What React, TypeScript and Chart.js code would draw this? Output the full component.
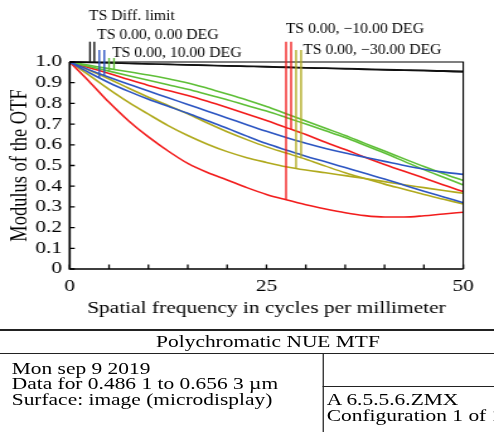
import React, { useEffect, useRef } from "react";
import { Chart, registerables } from "chart.js";

Chart.register(...registerables);

// ---------- data ----------
const FREQ = [0, 2.5, 5, 7.5, 10, 12.5, 15, 17.5, 20, 22.5, 25, 27.5, 30, 32.5, 35, 37.5, 40, 42.5, 45, 47.5, 50];

const DIFF_T = [1, 0.998, 0.996, 0.9935, 0.991, 0.989, 0.987, 0.9845, 0.982, 0.98, 0.978, 0.9755, 0.973, 0.971, 0.969, 0.9665, 0.964, 0.962, 0.96, 0.9575, 0.955];
const DIFF_S = [1, 0.9978, 0.9956, 0.993, 0.9905, 0.988, 0.9858, 0.9832, 0.981, 0.9785, 0.976, 0.9737, 0.9712, 0.969, 0.9665, 0.964, 0.9617, 0.9593, 0.957, 0.9545, 0.952];

const DEG0_T = [1, 0.948, 0.9, 0.858, 0.82, 0.786, 0.752, 0.716, 0.68, 0.642, 0.606, 0.575, 0.545, 0.518, 0.49, 0.462, 0.435, 0.405, 0.376, 0.348, 0.32];
const DEG0_S = [1, 0.962, 0.926, 0.892, 0.86, 0.827, 0.795, 0.762, 0.73, 0.697, 0.665, 0.635, 0.607, 0.582, 0.56, 0.54, 0.52, 0.5, 0.482, 0.468, 0.457];

const DEG10_T = [1, 0.978, 0.956, 0.934, 0.912, 0.89, 0.868, 0.843, 0.818, 0.79, 0.763, 0.732, 0.7, 0.668, 0.635, 0.598, 0.56, 0.52, 0.48, 0.443, 0.406];
const DEG10_S = [1, 0.984, 0.968, 0.953, 0.937, 0.919, 0.899, 0.873, 0.845, 0.816, 0.785, 0.75, 0.715, 0.68, 0.645, 0.607, 0.57, 0.532, 0.495, 0.46, 0.427];

const DEGM10_T = [1, 0.905, 0.805, 0.715, 0.638, 0.57, 0.51, 0.466, 0.43, 0.393, 0.36, 0.334, 0.31, 0.29, 0.272, 0.258, 0.251, 0.251, 0.257, 0.266, 0.274];
const DEGM10_S = [1, 0.972, 0.945, 0.915, 0.887, 0.862, 0.838, 0.81, 0.78, 0.749, 0.717, 0.683, 0.65, 0.612, 0.577, 0.54, 0.505, 0.472, 0.44, 0.406, 0.374];

const DEGM30_T = [1, 0.935, 0.868, 0.805, 0.748, 0.693, 0.645, 0.603, 0.567, 0.538, 0.515, 0.494, 0.478, 0.465, 0.451, 0.437, 0.422, 0.407, 0.393, 0.379, 0.366];
const DEGM30_S = [1, 0.96, 0.918, 0.873, 0.83, 0.79, 0.75, 0.705, 0.663, 0.625, 0.59, 0.56, 0.53, 0.497, 0.465, 0.437, 0.41, 0.385, 0.36, 0.337, 0.314];

const FIELD_LABELS = ["TS Diff. limit", "TS 0.00, 0.00 DEG", "TS 0.00, 10.00 DEG", "TS 0.00, \u221210.00 DEG", "TS 0.00, \u221230.00 DEG"];
const FIELD_SERIES = [
  [DIFF_T, DIFF_S],
  [DEG0_T, DEG0_S],
  [DEG10_T, DEG10_S],
  [DEGM10_T, DEGM10_S],
  [DEGM30_T, DEGM30_S],
];
const MARKER_FREQ = [
  [2.58, 3.13],
  [3.76, 4.4],
  [5.0, 5.63],
  [27.49, 28.13],
  [28.76, 29.4],
];
const X_LABELED_TICKS = [0, 25, 50];
const X_MIN = 0, X_MAX = 50, X_STEP = 5;
const Y_MIN = 0, Y_MAX = 1, Y_STEP = 0.1;

const X_TITLE = "Spatial frequency in cycles per millimeter";
const Y_TITLE = "Modulus of the OTF";
const PLOT_TITLE = "Polychromatic NUE MTF";
const INFO_LEFT = ["Mon sep 9 2019", "Data for 0.486 1 to 0.656 3 \u00b5m", "Surface: image (microdisplay)"];
const INFO_RIGHT = ["A 6.5.5.6.ZMX", "Configuration 1 of 1"];

// ---------- style ----------
const COLORS = ["#111111", "#2d56c2", "#5fbf38", "#f21c1c", "#b0aa1e"];
const FONT = "'Liberation Serif', 'DejaVu Serif', serif";
const W = 392;
const SX = 494 / W;
const CH = 322;
const AREA = { left: 55.3, right: 367.6, top: 62, bottom: 269 };
const DIVIDER_X = 323 / SX;
const TITLE_CENTER_X = 268 / SX;
// legend text positions (internal px) and marker-line tops
const LEGEND_POS = [
  { x: 70.6, y: 15.7, top: 41.7 },
  { x: 77, y: 35, top: 50 },
  { x: 88.9, y: 53, top: 58 },
  { x: 226.7, y: 29, top: 41.7 },
  { x: 240.5, y: 50, top: 50 },
];

function interp(series: number[], f: number): number {
  for (let i = 0; i < FREQ.length - 1; i++) {
    if (f >= FREQ[i] && f <= FREQ[i + 1]) {
      const t = (f - FREQ[i]) / (FREQ[i + 1] - FREQ[i]);
      return series[i] + t * (series[i + 1] - series[i]);
    }
  }
  return series[series.length - 1];
}

const framePlugin = {
  id: "zemaxFrame",
  afterDatasetsDraw(chart: any) {
    const { ctx, chartArea } = chart;
    const { left, right, top, bottom } = chartArea;
    const xs = chart.scales.x;
    const ys = chart.scales.y;
    ctx.save();
    ctx.strokeStyle = "#000";
    ctx.lineWidth = 1.1;
    ctx.beginPath();
    ctx.moveTo(left, top);
    ctx.lineTo(right, top);
    ctx.lineTo(right, bottom);
    ctx.stroke();
    ctx.lineWidth = 1.7;
    ctx.beginPath();
    ctx.moveTo(left, top);
    ctx.lineTo(left, bottom);
    ctx.lineTo(right, bottom);
    ctx.stroke();
    ctx.lineWidth = 1.3;
    ctx.beginPath();
    ys.ticks.forEach((t: any) => {
      const py = ys.getPixelForValue(t.value);
      ctx.moveTo(left, py);
      ctx.lineTo(left + 4, py);
    });
    xs.ticks.forEach((t: any) => {
      const px = xs.getPixelForValue(t.value);
      ctx.moveTo(px, bottom);
      ctx.lineTo(px, bottom - 4.5);
    });
    ctx.stroke();

    // legend
    ctx.font = `12.5px ${FONT}`;
    ctx.textBaseline = "middle";
    ctx.textAlign = "left";
    FIELD_LABELS.forEach((lab, i) => {
      const pos = LEGEND_POS[i];
      ctx.save();
      ctx.translate(pos.x, pos.y);
      ctx.scale(1, 1.18);
      ctx.fillStyle = "#000";
      ctx.fillText(lab, 0, 0);
      ctx.restore();
      ctx.strokeStyle = COLORS[i];
      ctx.lineWidth = 1.35;
      MARKER_FREQ[i].forEach((f, k) => {
        const px = xs.getPixelForValue(f);
        const py = ys.getPixelForValue(interp(FIELD_SERIES[i][k], f));
        ctx.beginPath();
        ctx.moveTo(px, pos.top);
        ctx.lineTo(px, py);
        ctx.stroke();
      });
    });
    ctx.restore();
  },
};

function ChartCanvas() {
  const ref = useRef<HTMLCanvasElement | null>(null);
  useEffect(() => {
    if (!ref.current) return;
    Chart.defaults.font.family = FONT;
    Chart.defaults.color = "#000";
    const datasets: any[] = [];
    FIELD_SERIES.forEach((pair, i) => {
      pair.forEach((s, k) => {
        datasets.push({
          label: FIELD_LABELS[i] + (k === 0 ? " T" : " S"),
          data: FREQ.map((f, j) => ({ x: f, y: s[j] })),
          borderColor: COLORS[i],
          borderWidth: i === 0 ? 1.4 : 1.6,
          pointRadius: 0,
          fill: false,
          cubicInterpolationMode: "monotone",
          clip: false,
        });
      });
    });
    const chart = new Chart(ref.current, {
      type: "line",
      data: { datasets },
      options: {
        responsive: false,
        animation: false,
        devicePixelRatio: 1,
        layout: { padding: { left: 0, right: W - AREA.right, top: AREA.top, bottom: 0 } },
        plugins: { legend: { display: false }, tooltip: { enabled: false } },
        scales: {
          x: {
            type: "linear",
            min: X_MIN,
            max: X_MAX,
            grid: { display: false, drawTicks: false },
            border: { display: false },
            afterFit: (s: any) => { s.height = CH - AREA.bottom; },
            ticks: {
              stepSize: X_STEP,
              autoSkip: false,
              maxRotation: 0,
              padding: 7,
              font: { size: 17, family: FONT },
              color: "#000",
              callback: (v: any) => (X_LABELED_TICKS.includes(Number(v)) ? String(v) : ""),
            },
            title: {
              display: true,
              text: X_TITLE,
              font: { size: 17, family: FONT },
              color: "#000",
              padding: { top: 0, bottom: 3 },
            },
          },
          y: {
            type: "linear",
            min: Y_MIN,
            max: Y_MAX,
            grid: { display: false, drawTicks: false },
            border: { display: false },
            afterFit: (s: any) => { s.width = AREA.left; },
            ticks: {
              stepSize: Y_STEP,
              autoSkip: false,
              padding: 6,
              font: { size: 17, family: FONT },
              color: "#000",
              callback: (v: any) => (Number(v) === 0 ? "0" : Number(v).toFixed(1)),
            },
            title: {
              display: true,
              text: Y_TITLE,
              font: { size: 18.5, family: FONT },
              color: "#000",
              padding: { top: 5, bottom: 0 },
            },
          },
        },
      },
      plugins: [framePlugin],
    } as any);
    return () => chart.destroy();
  }, []);
  return <canvas ref={ref} width={W} height={CH} style={{ position: "absolute", left: 0, top: 0, width: W, height: CH }} />;
}

export default function App() {
  const line = (style: any) => <div style={{ position: "absolute", background: "#222", ...style }} />;
  const text: any = { position: "absolute", fontFamily: FONT, fontSize: 17, color: "#000", whiteSpace: "nowrap" };
  return (
    <div style={{ position: "fixed", left: 0, top: 0, width: 494, height: 432, overflow: "hidden", background: "#fff" }}>
      <div style={{ position: "absolute", left: 0, top: 0, width: W, height: 432, transform: `scaleX(${SX})`, transformOrigin: "0 0", overflow: "hidden" }}>
        <ChartCanvas />
        {line({ left: 0, top: 329, width: W, height: 1.5 })}
        <div style={{ ...text, left: 0, top: 331, width: TITLE_CENTER_X * 2, textAlign: "center", lineHeight: "21px" }}>{PLOT_TITLE}</div>
        {line({ left: 0, top: 352.5, width: W, height: 1.3 })}
        <div style={{ ...text, left: 9.3, top: 360.5, lineHeight: "15.5px" }}>
          {INFO_LEFT.map((s, i) => <div key={i}>{s}</div>)}
        </div>
        {line({ left: DIVIDER_X, top: 353, width: 1.1, height: 80 })}
        {line({ left: DIVIDER_X, top: 386, width: W - DIVIDER_X, height: 1.1 })}
        <div style={{ ...text, left: DIVIDER_X + 3, top: 392, lineHeight: "16px" }}>
          {INFO_RIGHT.map((s, i) => <div key={i}>{s}</div>)}
        </div>
      </div>
    </div>
  );
}
